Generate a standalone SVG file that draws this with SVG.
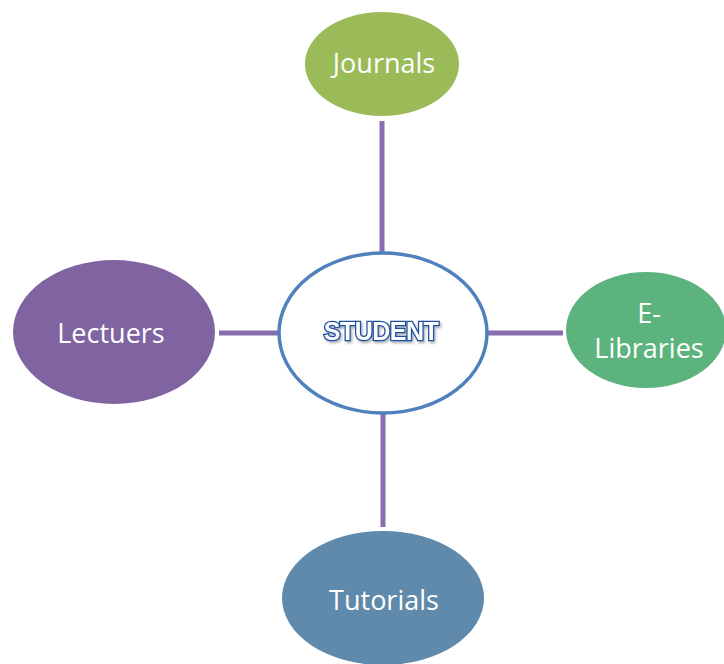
<svg xmlns="http://www.w3.org/2000/svg" width="724" height="664" viewBox="0 0 724 664">
<defs>
<filter id="sh" x="-20%" y="-40%" width="140%" height="180%">
<feDropShadow dx="1.5" dy="2" stdDeviation="1" flood-color="#000" flood-opacity="0.3"/>
</filter>
</defs>
<style>
.lbl{font-family:"Open Sans","Liberation Sans",sans-serif;font-size:27px;fill:#ffffff;text-anchor:middle}
.conn{stroke:#8a6db0;stroke-width:5;fill:none}
.stu{font-family:"Liberation Sans",Arial,sans-serif;font-weight:bold;font-size:25px;fill:#ffffff;stroke:#1f4f9e;stroke-width:2.6;paint-order:stroke;text-anchor:middle;letter-spacing:-0.5px}
</style>
<rect width="724" height="664" fill="#ffffff"/>
<g id="connectors">
<line class="conn" x1="382" y1="121" x2="382" y2="253"/>
<line class="conn" x1="219" y1="333" x2="279" y2="333"/>
<line class="conn" x1="487" y1="333" x2="563" y2="333"/>
<line class="conn" x1="383" y1="413" x2="383" y2="527"/>
</g>
<g id="student">
<ellipse cx="383" cy="333" rx="104" ry="80" fill="#ffffff" stroke="#4f81bd" stroke-width="3.5"/>
<text class="stu" x="381" y="340" filter="url(#sh)">STUDENT</text>
</g>
<g id="journals">
<ellipse cx="382" cy="64" rx="77" ry="52" fill="#9bbb59"/>
<text class="lbl" x="384" y="73">Journals</text>
</g>
<g id="lectuers">
<ellipse cx="114" cy="332" rx="101" ry="72" fill="#8064a2"/>
<text class="lbl" x="111" y="343">Lectuers</text>
</g>
<g id="elibraries">
<ellipse cx="646" cy="330" rx="80" ry="58" fill="#5db37e"/>
<text class="lbl" x="649" y="323">E-</text>
<text class="lbl" x="649" y="358">Libraries</text>
</g>
<g id="tutorials">
<ellipse cx="383" cy="598" rx="101" ry="67" fill="#5f8aab"/>
<text class="lbl" x="384" y="610">Tutorials</text>
</g>
</svg>
